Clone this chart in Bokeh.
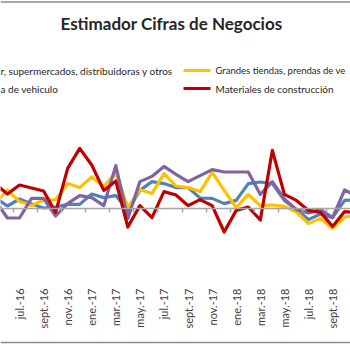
import math
from bokeh.plotting import figure
from bokeh.models import LinearAxis, FixedTicker, Span, Label, Range1d
from bokeh.embed import file_html
from bokeh.resources import INLINE

# ---- data (variación %, mensual) ----
months = ["may.-16", "jun.-16", "jul.-16", "ago.-16", "sept.-16", "oct.-16", "nov.-16", "dic.-16",
          "ene.-17", "feb.-17", "mar.-17", "abr.-17", "may.-17", "jun.-17", "jul.-17", "ago.-17",
          "sept.-17", "oct.-17", "nov.-17", "dic.-17", "ene.-18", "feb.-18", "mar.-18", "abr.-18",
          "may.-18", "jun.-18", "jul.-18", "ago.-18", "sept.-18", "oct.-18", "nov.-18"]

supermercados = [2.5, 0.5, 2.25, 1.0, 0.0, 0.25, 0.9, 0.9, 3.5, 2.6, 3.1, -0.6, 4.4, 6.6, 6.1, 5.1,
                 5.1, 2.5, 2.4, 1.1, 1.9, 6.1, 6.5, 6.1, 1.9, -0.4, -2.9, -1.5, -2.4, 1.9, 2.0]
grandes_tiendas = [1.25, 4.5, 1.6, 0.6, 2.0, 2.1, 6.1, 5.1, 7.75, 5.4, 8.75, 0.1, 4.6, 3.6, 8.6, 5.5,
                   5.1, 4.1, 8.9, 4.4, 0.1, 3.4, 0.6, 0.75, 0.4, -1.0, -3.9, -2.6, -5.1, -2.25, -2.0]
vehiculos = [1.75, -2.5, -2.5, 2.4, 2.4, -2.0, 1.1, 3.1, 2.6, 0.6, 10.6, -2.6, 6.6, 7.9, 10.4, 8.4,
             6.6, 8.1, 9.6, 9.0, 9.0, 9.0, 3.4, 6.6, 2.25, -0.4, -1.25, -0.4, -2.4, 4.5, 3.0]
materiales = [6.0, 3.5, 5.75, 5.0, 4.25, -1.1, 9.9, 14.9, 10.75, 4.4, 6.75, -4.75, 0.6, -2.4, 4.1, 3.25,
              0.6, 2.1, 0.6, -6.0, -0.6, 0.25, -3.0, 14.4, 3.4, 1.9, -0.6, -1.1, -4.6, -0.9, -1.25]

title_text = "Estimador Cifras de Negocios"
legend_left = ["r, supermercados, distribuidoras y otros", "a de vehiculo"]
legend_right = ["Grandes tiendas, prendas de ve", "Materiales de construcción"]

BLUE, YELLOW, PURPLE, RED = "#4f81bd", "#ffc000", "#8064a2", "#c00000"

W = H = 350
x0, x1 = 0.422, 29.49
y1 = 207.5 / 4
y0 = -(H - 207.5) / 4

def px2x(px):
    return x0 + px * (x1 - x0) / W

def py2y(py):
    return y1 - py * (y1 - y0) / H

p = figure(width=W, height=H, output_backend="svg", toolbar_location=None,
           x_axis_location=None, y_axis_location=None,
           x_range=Range1d(x0, x1), y_range=Range1d(y0, y1),
           min_border=0, min_border_left=0, min_border_right=0,
           min_border_top=0, min_border_bottom=0)
p.outline_line_color = None
p.xgrid.visible = False
p.ygrid.visible = False
p.background_fill_color = "white"
p.border_fill_color = "white"

xs = list(range(len(months)))

# zero axis with tick marks between categories
zero_axis = LinearAxis(fixed_location=0)
tick_pos = [i - 0.5 for i in range(2, len(months), 2)]
zero_axis.ticker = FixedTicker(ticks=tick_pos, minor_ticks=[])
zero_axis.major_label_overrides = {t: "" for t in tick_pos}
zero_axis.axis_line_color = "#a6a6a6"
zero_axis.axis_line_width = 1.5
zero_axis.major_tick_line_color = "#a6a6a6"
zero_axis.major_tick_line_width = 1.5
zero_axis.major_tick_in = 0
zero_axis.major_tick_out = 4
zero_axis.minor_tick_line_color = None
p.add_layout(zero_axis, "below")

# label axis at bottom of plot area
lab_axis = LinearAxis(fixed_location=py2y(284))
lab_ticks = list(range(2, len(months), 2))
lab_axis.ticker = FixedTicker(ticks=lab_ticks, minor_ticks=[])
lab_axis.major_label_overrides = {i: months[i] for i in lab_ticks}
lab_axis.major_label_orientation = math.pi / 2
lab_axis.axis_line_color = None
lab_axis.major_tick_line_color = None
lab_axis.minor_tick_line_color = None
lab_axis.major_tick_in = 0
lab_axis.major_tick_out = 0
lab_axis.major_label_standoff = 4
lab_axis.major_label_text_font = "Lato"
lab_axis.major_label_text_font_size = "11px"
lab_axis.major_label_text_color = "#404040"
p.add_layout(lab_axis, "below")

for ys, c in [(supermercados, BLUE), (grandes_tiendas, YELLOW), (vehiculos, PURPLE), (materiales, RED)]:
    p.line(xs, ys, line_color=c, line_width=3.2, line_join="round")

# chart border lines (cropped chart area)
p.add_layout(Span(location=py2y(1.5), dimension="width", line_color="#8c8c8c", line_width=1.5))
p.add_layout(Span(location=py2y(342), dimension="width", line_color="#8c8c8c", line_width=1.5))

# title
p.add_layout(Label(x=px2x(171), y=py2y(23), text=title_text, text_align="center",
                   text_baseline="middle", text_font="Lato", text_font_style="bold",
                   text_font_size="17px", text_color="#262626"))

# legend
rows_py = [70, 88]
for t, py in zip(legend_left, rows_py):
    p.add_layout(Label(x=px2x(0), y=py2y(py), text=t, text_align="left", text_baseline="middle",
                       text_font="Lato", text_font_size="10px", text_color="#262626"))
for t, py, c, fs in zip(legend_right, rows_py, [YELLOW, RED], ["9.5px", "10px"]):
    p.segment(x0=[px2x(183)], y0=[py2y(py)], x1=[px2x(210)], y1=[py2y(py)], line_color=c, line_width=3)
    p.add_layout(Label(x=px2x(215), y=py2y(py), text=t, text_align="left", text_baseline="middle",
                       text_font="Lato", text_font_size=fs, text_color="#262626"))

open("out.html", "w").write(file_html(p, INLINE))
